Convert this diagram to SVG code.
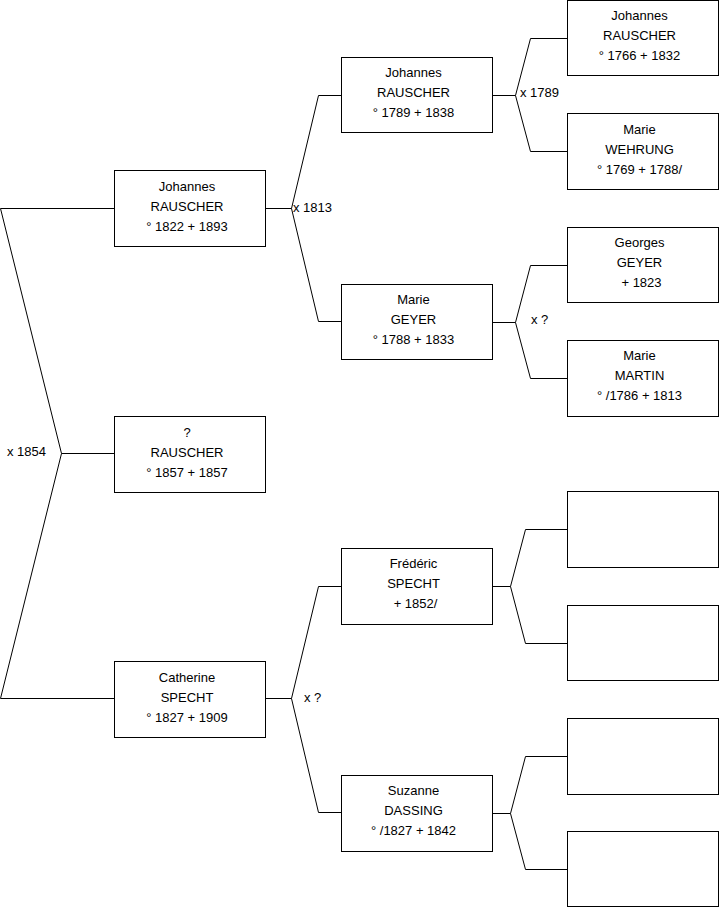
<svg xmlns="http://www.w3.org/2000/svg" width="719" height="908" viewBox="0 0 719 908">
<style>
.box{fill:#fff;stroke:#000;stroke-width:1}
.c{fill:none;stroke:#000;stroke-width:1}
text{font-family:"Liberation Sans",Arial,sans-serif;font-size:13px;fill:#000}
.t{text-anchor:middle}
</style>
<rect width="719" height="908" fill="#fff"/>
<g id="connectors">
<path class="c" d="M0.5,208.5H114M0.5,208.5L61.5,453.5L0.5,698.5H114M61.5,453.5H114"/>
<path class="c" d="M265,208.5H291.5L318.5,95.5H341M291.5,208.5L318.5,321.5H341"/>
<path class="c" d="M265,698.5H291.5L318.5,586.5H341M291.5,698.5L318.5,812.5H341"/>
<path class="c" d="M492,95.5H515.5L530.5,38.5H567M515.5,95.5L530.5,151.5H567"/>
<path class="c" d="M492,322.5H515.5L530.5,265.5H567M515.5,322.5L530.5,378.5H567"/>
<path class="c" d="M492,586.5H510.5L525.5,529.5H567M510.5,586.5L525.5,643.5H567"/>
<path class="c" d="M492,813.5H510.5L525.5,756.5H567M510.5,813.5L525.5,869.5H567"/>
<text x="7" y="456">x 1854</text>
<text x="293" y="212">x 1813</text>
<text x="304" y="702">x ?</text>
<text x="520" y="97">x 1789</text>
<text x="531" y="324">x ?</text>
</g>
<g id="n1"><rect class="box" x="114.5" y="170.5" width="151" height="76"/><text class="t" x="187" y="191">Johannes</text><text class="t" x="187" y="211">RAUSCHER</text><text class="t" x="187" y="231">° 1822 + 1893</text></g>
<g id="n2"><rect class="box" x="114.5" y="416.5" width="151" height="76"/><text class="t" x="187" y="437">?</text><text class="t" x="187" y="457">RAUSCHER</text><text class="t" x="187" y="477">° 1857 + 1857</text></g>
<g id="n3"><rect class="box" x="114.5" y="661.5" width="151" height="76"/><text class="t" x="187" y="682">Catherine</text><text class="t" x="187" y="702">SPECHT</text><text class="t" x="187" y="722">° 1827 + 1909</text></g>
<g id="n4"><rect class="box" x="341.5" y="57.5" width="151" height="75"/><text class="t" x="413.5" y="77">Johannes</text><text class="t" x="413.5" y="97">RAUSCHER</text><text class="t" x="413.5" y="117">° 1789 + 1838</text></g>
<g id="n5"><rect class="box" x="341.5" y="284.5" width="151" height="75"/><text class="t" x="413.5" y="304">Marie</text><text class="t" x="413.5" y="324">GEYER</text><text class="t" x="413.5" y="344">° 1788 + 1833</text></g>
<g id="n6"><rect class="box" x="341.5" y="548.5" width="151" height="76"/><text class="t" x="413.5" y="568">Frédéric</text><text class="t" x="413.5" y="588">SPECHT</text><text class="t" x="415.5" y="608">+ 1852/</text></g>
<g id="n7"><rect class="box" x="341.5" y="775.5" width="151" height="76"/><text class="t" x="413.5" y="795">Suzanne</text><text class="t" x="413.5" y="815">DASSING</text><text class="t" x="413.5" y="835">° /1827 + 1842</text></g>
<g id="n8"><rect class="box" x="567.5" y="0.5" width="151" height="75"/><text class="t" x="639.5" y="20">Johannes</text><text class="t" x="639.5" y="40">RAUSCHER</text><text class="t" x="639.5" y="60">° 1766 + 1832</text></g>
<g id="n9"><rect class="box" x="567.5" y="113.5" width="151" height="76"/><text class="t" x="639.5" y="134">Marie</text><text class="t" x="639.5" y="154">WEHRUNG</text><text class="t" x="639.5" y="174">° 1769 + 1788/</text></g>
<g id="n10"><rect class="box" x="567.5" y="227.5" width="151" height="75"/><text class="t" x="639.5" y="247">Georges</text><text class="t" x="639.5" y="267">GEYER</text><text class="t" x="641.5" y="287">+ 1823</text></g>
<g id="n11"><rect class="box" x="567.5" y="340.5" width="151" height="76"/><text class="t" x="639.5" y="360">Marie</text><text class="t" x="639.5" y="380">MARTIN</text><text class="t" x="639.5" y="400">° /1786 + 1813</text></g>
<g id="n12"><rect class="box" x="567.5" y="491.5" width="151" height="76"/></g>
<g id="n13"><rect class="box" x="567.5" y="605.5" width="151" height="75"/></g>
<g id="n14"><rect class="box" x="567.5" y="718.5" width="151" height="76"/></g>
<g id="n15"><rect class="box" x="567.5" y="831.5" width="151" height="75"/></g>
</svg>
